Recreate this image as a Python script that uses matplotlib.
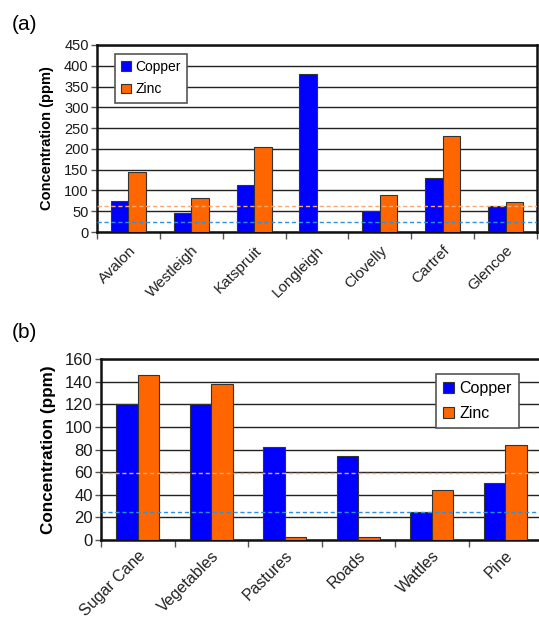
import numpy as np
import matplotlib.pyplot as plt

plt.rcParams['font.family'] = ['Liberation Sans', 'DejaVu Sans']

# (a) soil concentrations by farm
farms = ['Avalon', 'Westleigh', 'Katspruit', 'Longleigh', 'Clovelly', 'Cartref', 'Glencoe']
farm_copper = [75, 45, 113, 381, 51, 129, 62]
farm_zinc = [145, 83, 204, 1, 90, 232, 73]
farm_cu_ref = 25
farm_zn_ref = 63

# (b) soil concentrations by land use
land_uses = ['Sugar Cane', 'Vegetables', 'Pastures', 'Roads', 'Wattles', 'Pine']
use_copper = [120, 120, 82, 74, 24.5, 50]
use_zinc = [146, 138, 3, 3, 44, 84]
use_cu_ref = 24.5
use_zn_ref = 59

CU_COLOR = '#0000FF'
ZN_COLOR = '#FF6600'
W, H = 539, 623


def panel(rect, cats, cu, zn, cu_ref, zn_ref, ymax, ystep, bar_w, fs_tick, fs_x, fs_lab, fs_leg,
          leg_loc, lab_pad, x_pad):
    ax = fig.add_axes(rect)
    x = np.arange(len(cats))
    ax.bar(x - bar_w / 2, cu, bar_w, color=CU_COLOR, edgecolor='#333333', linewidth=0.8,
           label='Copper', zorder=3)
    ax.bar(x + bar_w / 2, zn, bar_w, color=ZN_COLOR, edgecolor='#333333', linewidth=0.8,
           label='Zinc', zorder=3)
    ax.axhline(zn_ref, color='#F8A870', linestyle=(0, (3, 2)), linewidth=1.0, zorder=4)
    ax.axhline(cu_ref, color='#3090E0', linestyle=(0, (3, 2)), linewidth=1.0, zorder=4)

    ax.set_xlim(-0.5, len(cats) - 0.5)
    ax.set_ylim(0, ymax)
    ax.set_yticks(np.arange(0, ymax + 1, ystep))
    ax.yaxis.grid(True, color='#222222', linewidth=1.0, zorder=0)
    ax.set_axisbelow(True)

    ax.set_xticks(x)
    ax.set_xticklabels(cats, rotation=45, ha='right', rotation_mode='anchor', fontsize=fs_x,
                       color='#222222')
    ax.tick_params(axis='x', which='major', length=0, pad=x_pad)
    ax.set_xticks(np.arange(-0.5, len(cats)), minor=True)
    ax.tick_params(axis='x', which='minor', length=5, width=1, color='#555555')
    ax.tick_params(axis='y', length=4, width=1, labelsize=fs_tick, pad=2, colors='#555555')
    for t in ax.get_yticklabels():
        t.set_color('#1a1a1a')

    for side in ['left', 'bottom', 'top', 'right']:
        ax.spines[side].set_linewidth(1.8)
        ax.spines[side].set_color('#111111')

    ax.set_ylabel('Concentration (ppm)', fontsize=fs_lab, fontweight='bold', labelpad=lab_pad)
    leg = ax.legend(loc=leg_loc, fontsize=fs_leg, fancybox=False, framealpha=1,
                    edgecolor='#555555', handlelength=0.7, handleheight=0.7,
                    handletextpad=0.3, labelspacing=0.6, borderpad=0.45)
    leg.get_frame().set_linewidth(1.2)
    leg.set_zorder(5)
    return ax


fig = plt.figure(figsize=(W / 100, H / 100), dpi=100)

ax_a = panel([97 / W, 1 - 232 / H, 440 / W, 187 / H], farms, farm_copper, farm_zinc,
             farm_cu_ref, farm_zn_ref, 450, 50, 0.28, 10.5, 11, 10.5, 10,
             'upper left', 7, 8)
ax_a.get_legend().set_bbox_to_anchor((0.025, 0.99))

ax_b = panel([101 / W, 1 - 540 / H, 441 / W, 181 / H], land_uses, use_copper, use_zinc,
             use_cu_ref, use_zn_ref, 160, 20, 0.29, 12, 11.5, 12.3, 11.5,
             'upper right', 6, 6)
ax_b.spines['right'].set_visible(False)
ax_b.get_legend().set_bbox_to_anchor((0.965, 0.96))

fig.text(12 / W, 1 - 25 / H, '(a)', fontsize=15, va='center', ha='left')
fig.text(12 / W, 1 - 333 / H, '(b)', fontsize=15, va='center', ha='left')

fig.savefig('out.png', dpi=100)
